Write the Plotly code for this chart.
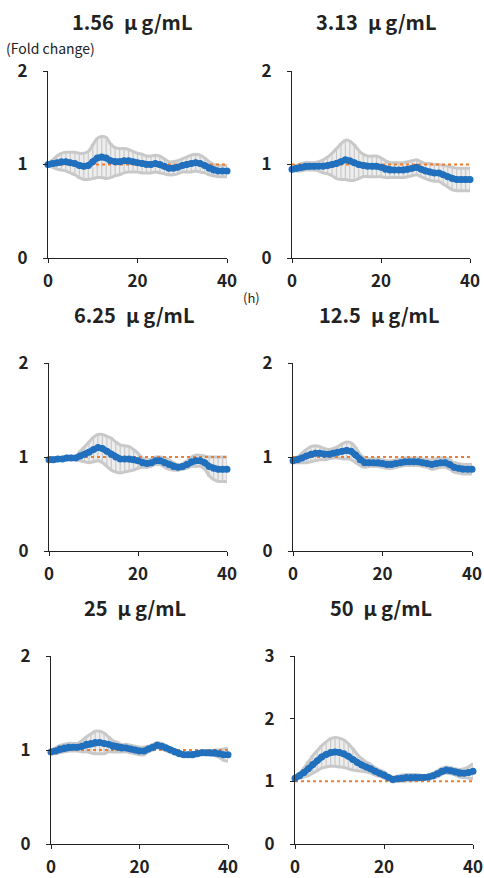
import plotly.graph_objects as go

hours = list(range(0, 41))

titles = ["1.56\u2002μ\u2009g/mL", "3.13\u2002μ\u2009g/mL", "6.25\u2002μ\u2009g/mL",
          "12.5\u2002μ\u2009g/mL", "25\u2002μ\u2009g/mL", "50\u2002μ\u2009g/mL"]

mean_156 = [1.00, 1.01, 1.02, 1.03, 1.03, 1.02, 1.01, 0.99, 0.98, 0.99, 1.03, 1.07, 1.08, 1.07, 1.04, 1.03, 1.03, 1.04, 1.04, 1.03, 1.02,
            1.01, 1.00, 1.00, 1.01, 1.00, 0.98, 0.96, 0.96, 0.97, 0.99, 1.00, 1.01, 1.02, 1.01, 0.99, 0.96, 0.94, 0.93, 0.93, 0.93]
sd_156 = [0.01, 0.04, 0.07, 0.09, 0.10, 0.11, 0.12, 0.13, 0.14, 0.15, 0.18, 0.21, 0.22, 0.22, 0.18, 0.15, 0.14, 0.13, 0.12, 0.11, 0.10,
          0.10, 0.09, 0.09, 0.09, 0.09, 0.08, 0.07, 0.07, 0.07, 0.07, 0.08, 0.09, 0.09, 0.09, 0.08, 0.07, 0.06, 0.06, 0.06, 0.06]

mean_313 = [0.95, 0.96, 0.97, 0.98, 0.98, 0.98, 0.98, 0.98, 0.99, 1.00, 1.01, 1.03, 1.05, 1.04, 1.02, 1.00, 0.99, 0.98, 0.98, 0.98, 0.97,
            0.95, 0.94, 0.94, 0.94, 0.94, 0.95, 0.96, 0.97, 0.95, 0.93, 0.92, 0.91, 0.91, 0.89, 0.87, 0.85, 0.84, 0.84, 0.84, 0.84]
sd_313 = [0.02, 0.03, 0.04, 0.04, 0.04, 0.04, 0.05, 0.07, 0.09, 0.12, 0.16, 0.19, 0.21, 0.21, 0.19, 0.15, 0.12, 0.11, 0.11, 0.11, 0.10,
          0.09, 0.08, 0.08, 0.08, 0.08, 0.08, 0.08, 0.08, 0.08, 0.08, 0.09, 0.09, 0.09, 0.10, 0.11, 0.12, 0.12, 0.12, 0.12, 0.12]

mean_625 = [0.97, 0.97, 0.98, 0.98, 0.99, 0.99, 0.99, 1.01, 1.03, 1.05, 1.08, 1.10, 1.09, 1.06, 1.03, 1.00, 0.98, 0.98, 0.98, 0.97, 0.96,
            0.94, 0.93, 0.94, 0.96, 0.96, 0.94, 0.92, 0.90, 0.89, 0.90, 0.92, 0.95, 0.96, 0.96, 0.94, 0.90, 0.88, 0.87, 0.87, 0.87]
sd_625 = [0.01, 0.01, 0.01, 0.01, 0.02, 0.02, 0.02, 0.05, 0.08, 0.11, 0.13, 0.14, 0.15, 0.16, 0.17, 0.16, 0.15, 0.14, 0.13, 0.11, 0.08,
          0.05, 0.04, 0.04, 0.04, 0.04, 0.05, 0.05, 0.04, 0.03, 0.03, 0.04, 0.05, 0.06, 0.06, 0.07, 0.10, 0.12, 0.13, 0.13, 0.13]

mean_125 = [0.96, 0.97, 0.99, 1.01, 1.03, 1.04, 1.04, 1.03, 1.03, 1.04, 1.05, 1.06, 1.07, 1.06, 1.02, 0.97, 0.94, 0.94, 0.94, 0.94, 0.93,
            0.92, 0.92, 0.93, 0.94, 0.95, 0.95, 0.95, 0.95, 0.94, 0.93, 0.92, 0.93, 0.94, 0.94, 0.92, 0.89, 0.88, 0.87, 0.87, 0.87]
sd_125 = [0.02, 0.03, 0.05, 0.07, 0.08, 0.08, 0.07, 0.06, 0.05, 0.05, 0.06, 0.08, 0.09, 0.09, 0.08, 0.06, 0.05, 0.04, 0.04, 0.04, 0.04,
          0.04, 0.04, 0.04, 0.04, 0.04, 0.04, 0.04, 0.04, 0.04, 0.04, 0.05, 0.05, 0.05, 0.05, 0.05, 0.05, 0.05, 0.05, 0.05, 0.05]

mean_25 = [0.98, 0.99, 1.01, 1.02, 1.03, 1.03, 1.03, 1.04, 1.06, 1.07, 1.08, 1.08, 1.07, 1.06, 1.04, 1.03, 1.02, 1.02, 1.01, 1.00, 0.99,
           0.99, 1.01, 1.03, 1.05, 1.04, 1.02, 1.00, 0.98, 0.96, 0.95, 0.95, 0.95, 0.96, 0.97, 0.97, 0.97, 0.97, 0.96, 0.95, 0.95]
sd_25 = [0.02, 0.03, 0.04, 0.04, 0.04, 0.04, 0.04, 0.06, 0.08, 0.10, 0.12, 0.12, 0.11, 0.08, 0.06, 0.05, 0.04, 0.04, 0.04, 0.04, 0.04,
         0.04, 0.03, 0.03, 0.03, 0.03, 0.03, 0.02, 0.02, 0.02, 0.02, 0.02, 0.02, 0.02, 0.02, 0.02, 0.02, 0.03, 0.04, 0.06, 0.07]

mean_50 = [1.05, 1.09, 1.14, 1.20, 1.27, 1.33, 1.39, 1.43, 1.46, 1.47, 1.46, 1.44, 1.40, 1.35, 1.30, 1.26, 1.23, 1.20, 1.16, 1.13, 1.10,
           1.06, 1.03, 1.04, 1.05, 1.06, 1.06, 1.06, 1.06, 1.06, 1.07, 1.09, 1.12, 1.16, 1.18, 1.17, 1.15, 1.13, 1.13, 1.14, 1.16]
sd_50 = [0.02, 0.04, 0.07, 0.11, 0.14, 0.16, 0.18, 0.20, 0.22, 0.23, 0.23, 0.22, 0.20, 0.17, 0.13, 0.10, 0.08, 0.07, 0.06, 0.05, 0.05,
         0.04, 0.04, 0.04, 0.05, 0.05, 0.05, 0.05, 0.04, 0.03, 0.03, 0.04, 0.05, 0.05, 0.05, 0.05, 0.05, 0.06, 0.07, 0.09, 0.12]

means = [mean_156, mean_313, mean_625, mean_125, mean_25, mean_50]
sds = [sd_156, sd_313, sd_625, sd_125, sd_25, sd_50]
y_max = [2, 2, 2, 2, 2, 3]
baseline_x = [0, 40]
baseline_y = [1, 1]
x_ticks = [0, 20, 40]

W, H = 484, 878
# pixel boxes of each plot area: (left, right, top, bottom)
boxes = [(48, 227, 71, 258), (292, 470, 71, 258),
         (49, 227, 363, 551), (293, 472, 363, 551),
         (51, 228, 656, 844), (295, 473, 656, 844)]
title_cx = [132, 376, 134, 379, 135, 381]

FONT = "Noto Sans CJK JP"
BLUE = "#2170BE"
GRAY = "#C9C9C9"
LIGHT = "#EDEDED"
ORANGE = "#ED7D31"
INK = "#222222"

fig = go.Figure()
layout = dict(width=W, height=H, margin=dict(l=0, r=0, t=0, b=0, autoexpand=False),
              paper_bgcolor="white", plot_bgcolor="white", showlegend=False,
              font=dict(family=FONT, color=INK))
annotations = []

for i in range(6):
    xa = "x" if i == 0 else f"x{i+1}"
    ya = "y" if i == 0 else f"y{i+1}"
    l, r, t, b = boxes[i]
    upper = [m + s for m, s in zip(means[i], sds[i])]
    lower = [m - s for m, s in zip(means[i], sds[i])]
    # light band between the error-bar ends
    fig.add_trace(go.Scatter(x=hours, y=lower, mode="lines", xaxis=xa, yaxis=ya,
                             line=dict(color=GRAY, width=3, shape="spline"), hoverinfo="skip", cliponaxis=False))
    fig.add_trace(go.Scatter(x=hours, y=upper, mode="lines", xaxis=xa, yaxis=ya, fill="tonexty",
                             fillcolor=LIGHT, line=dict(color=GRAY, width=3, shape="spline"),
                             hoverinfo="skip", cliponaxis=False))
    # error bars
    fig.add_trace(go.Scatter(x=hours, y=means[i], mode="markers", xaxis=xa, yaxis=ya,
                             marker=dict(size=1, opacity=0),
                             error_y=dict(type="data", array=sds[i], color=GRAY, thickness=1.2, width=2),
                             hoverinfo="skip", cliponaxis=False))
    fig.add_trace(go.Scatter(x=baseline_x, y=baseline_y, mode="lines", xaxis=xa, yaxis=ya,
                             line=dict(color=ORANGE, width=2, dash="dot"), cliponaxis=False))
    fig.add_trace(go.Scatter(x=hours, y=means[i], mode="lines+markers", xaxis=xa, yaxis=ya,
                             line=dict(color=BLUE, width=6),
                             marker=dict(color=BLUE, size=7), cliponaxis=False))
    key_x = "xaxis" if i == 0 else f"xaxis{i+1}"
    key_y = "yaxis" if i == 0 else f"yaxis{i+1}"
    layout[key_x] = dict(domain=[l / W, r / W], anchor=ya, range=[0, 40], tickvals=x_ticks,
                         automargin=False,
                         showgrid=False, zeroline=False, showline=True, linecolor=INK, linewidth=1,
                         ticks="outside", ticklen=4, tickcolor=INK, ticklabelstandoff=4,
                         tickfont=dict(family=FONT, size=17, color=INK, weight="bold"), fixedrange=True)
    layout[key_y] = dict(domain=[1 - b / H, 1 - t / H], anchor=xa, range=[0, y_max[i]],
                         automargin=False,
                         dtick=1, showgrid=False, zeroline=False, showline=True, linecolor=INK,
                         linewidth=1, ticks="outside", ticklen=4, tickcolor=INK, ticklabelstandoff=12,
                         tickfont=dict(family=FONT, size=17, color=INK, weight="bold"), fixedrange=True)
    annotations.append(dict(text="<b>" + titles[i] + "</b>", x=title_cx[i] / W, y=1 - (t - 49) / H,
                            xref="paper", yref="paper", showarrow=False, xanchor="center", yanchor="middle",
                            font=dict(family=FONT, size=20, color=INK)))

annotations.append(dict(text="(Fold change)", x=4 / W, y=1 - 48 / H, xref="paper", yref="paper",
                        showarrow=False, xanchor="left", yanchor="middle",
                        font=dict(family=FONT, size=14, color=INK)))
annotations.append(dict(text="(h)", x=241 / W, y=1 - 297 / H, xref="paper", yref="paper",
                        showarrow=False, xanchor="left", yanchor="middle",
                        font=dict(family=FONT, size=13, color=INK)))
layout["annotations"] = annotations
fig.update_layout(**layout)
fig.write_html("out.html")
